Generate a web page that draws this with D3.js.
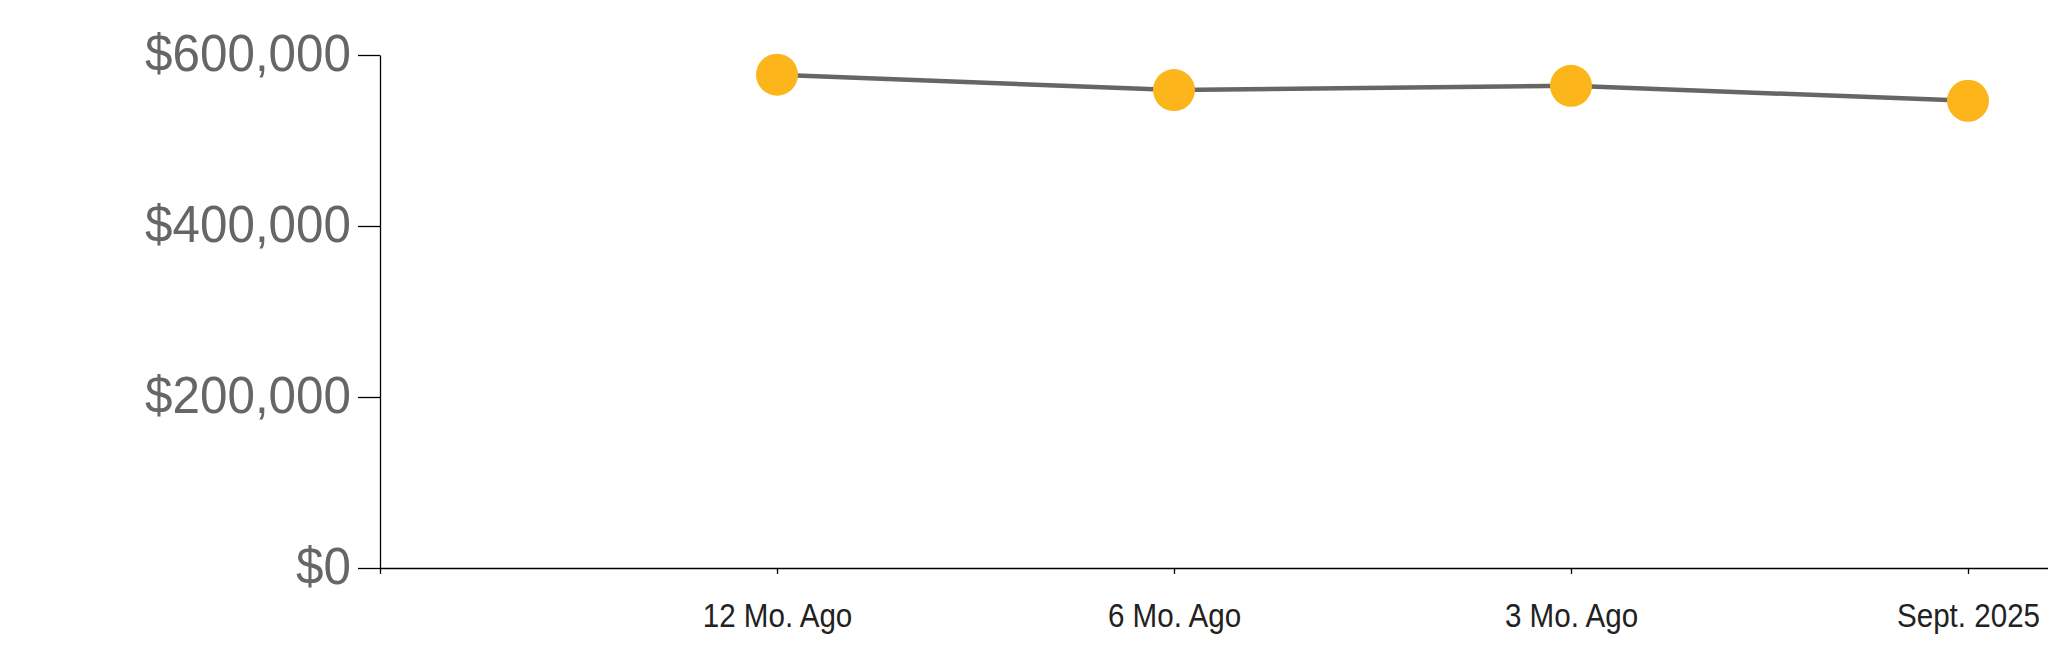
<!DOCTYPE html>
<html>
<head>
<meta charset="utf-8">
<script src="https://cdn.jsdelivr.net/npm/d3@7"></script>
<style>
  body { margin: 0; background: #fff; }
  svg { display: block; }
  .y-axis text { transform-box: fill-box; transform-origin: 100% 50%; transform: scaleX(0.95); }
  .x-axis text { transform-box: fill-box; transform-origin: 50% 50%; transform: scaleX(0.87); }
</style>
</head>
<body>
<div id="chart"></div>
<script>
// Veriler
const periods = ['12 Mo. Ago', '6 Mo. Ago', '3 Mo. Ago', 'Sept. 2025'];
const prices = [577000, 559000, 564000, 546500];
const yTicks = [0, 200000, 400000, 600000];

// Boyutlar
const width = 2048;
const height = 663;
const margin = { top: 55, left: 380, bottom: 95 };
const plotRight = 2365; // eksen sayfanın dışına taşıyor

const svg = d3.select('#chart')
    .append('svg')
    .attr('width', width)
    .attr('height', height);

// Ölçekler
const x = d3.scalePoint()
    .domain(periods)
    .range([margin.left, plotRight])
    .padding(1);

const y = d3.scaleLinear()
    .domain([0, 600000])
    .range([height - margin.bottom, margin.top]);

const fmt = d3.format('$,.0f');

// Y ekseni
const yAxis = svg.append('g')
    .attr('class', 'y-axis')
    .attr('transform', `translate(${margin.left},0)`)
    .call(d3.axisLeft(y)
        .tickValues(yTicks)
        .tickFormat(fmt)
        .tickSizeInner(22)
        .tickSizeOuter(0)
        .tickPadding(7));

yAxis.selectAll('text')
    .attr('fill', '#666')
    .attr('dy', '0.3em')
    .style('font-family', '"Liberation Sans", Arial, sans-serif')
    .style('font-size', '52px');

// X ekseni
const xAxis = svg.append('g')
    .attr('class', 'x-axis')
    .attr('transform', `translate(0,${y(0)})`)
    .call(d3.axisBottom(x)
        .tickSizeInner(6)
        .tickSizeOuter(6)
        .tickPadding(29));

xAxis.selectAll('text')
    .attr('fill', '#222')
    .style('font-family', '"Liberation Sans", Arial, sans-serif')
    .style('font-size', '34px');

svg.selectAll('.domain, .tick line')
    .attr('stroke', '#000')
    .attr('stroke-width', 1.3);

// Çizgi
const line = d3.line()
    .x((d, i) => x(periods[i]))
    .y(d => y(d));

svg.append('path')
    .datum(prices)
    .attr('fill', 'none')
    .attr('stroke', '#666')
    .attr('stroke-width', 4.5)
    .attr('d', line);

// Noktalar
svg.append('g')
    .selectAll('circle')
    .data(prices)
    .enter()
    .append('circle')
    .attr('cx', (d, i) => x(periods[i]))
    .attr('cy', d => y(d))
    .attr('r', 21)
    .attr('fill', '#fcb51b');
</script>
</body>
</html>
